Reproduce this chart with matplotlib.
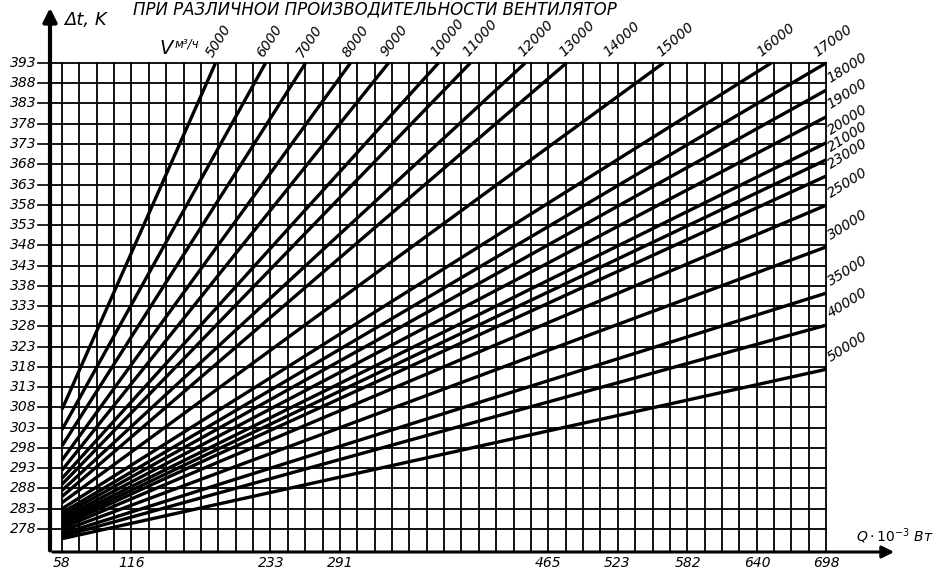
import matplotlib.pyplot as plt
import numpy as np

# axis ticks
q_ticks = [58, 116, 233, 291, 465, 523, 582, 640, 698]
dt_ticks = list(range(393, 277, -5))

# lines that run out through the top edge (dt = 393)
top_flow = [5000, 6000, 7000, 8000, 9000, 10000, 11000, 12000, 13000, 15000, 16000, 17000]
top_q_end = [186.6, 228.5, 262, 299.6, 331.5, 373.3, 400, 446, 480.5, 561.7, 652, 698]
top_dt_start = [307.5, 302.5, 298.5, 295, 292.5, 290.5, 289, 287.5, 286, 284.5, 283, 282]

# lines that run out through the right edge (Q = 698)
right_flow = [18000, 19000, 20000, 21000, 23000, 25000, 30000, 35000, 40000, 50000]
right_dt_end = [386.3, 379.7, 373.3, 369.1, 365.1, 357.9, 347.6, 336.2, 328.3, 317.4]
right_dt_start = [281.3, 280.6, 280, 279.4, 278.8, 278.2, 277.5, 276.8, 276.2, 275.6]

# labels above the top edge
top_labels = ['5000', '6000', '7000', '8000', '9000', '10000', '11000', '12000',
              '13000', '14000', '15000', '16000', '17000']
top_label_q = [186.6, 228.5, 262, 299.6, 331.5, 373.3, 400, 446, 480.5, 517, 561.7, 645, 692]
top_label_rot = [58, 57, 56, 54, 52, 50, 48, 46, 45, 43, 41, 39, 36]

q_min, q_max = 58, 698
dt_min, dt_max = 278, 393
x_lo, x_hi = 47.95, 757.3
y_lo, y_hi = 272.32, 407.3

fig = plt.figure(figsize=(9.36, 5.76), dpi=100)
ax = fig.add_axes([50 / 936, 1 - 552 / 576, (897 - 50) / 936, (552 - 5) / 576])
ax.set_xlim(x_lo, x_hi)
ax.set_ylim(y_lo, y_hi)
ax.axis('off')

# grid
for q in np.linspace(q_min, q_max, 45):
    ax.plot([q, q], [y_lo, dt_max], color='black', lw=1.3)
for dt in dt_ticks:
    ax.plot([x_lo, q_max], [dt, dt], color='black', lw=1.3)

# fan of lines
for q_end, dt0 in zip(top_q_end, top_dt_start):
    ax.plot([q_min, q_end], [dt0, dt_max], color='black', lw=2.4, solid_capstyle='butt')
for dt_end, dt0 in zip(right_dt_end, right_dt_start):
    ax.plot([q_min, q_max], [dt0, dt_end], color='black', lw=2.4, solid_capstyle='butt')

# axes with arrows
ax.annotate('', xy=(x_lo, y_hi), xytext=(x_lo, y_lo - 0.3),
            arrowprops=dict(arrowstyle='-|>', lw=3, color='black', mutation_scale=20))
ax.annotate('', xy=(x_hi, y_lo), xytext=(x_lo, y_lo),
            arrowprops=dict(arrowstyle='-|>', lw=2.2, color='black', mutation_scale=18))

# y ticks
for dt in dt_ticks:
    ax.plot([38, x_lo], [dt, dt], color='black', lw=1.2, clip_on=False)
    ax.text(37, dt, str(dt), ha='right', va='center', fontsize=10, style='italic')

# x ticks
for q in q_ticks:
    ax.text(q, 269.6, str(q), ha='center', va='center', fontsize=10, style='italic')

# flow labels
for lab, q, rot in zip(top_labels, top_label_q, top_label_rot):
    ax.text(q, 393.9, lab, rotation=rot, rotation_mode='anchor', ha='left', va='bottom',
            fontsize=10, style='italic')
for f, dt in zip(right_flow, right_dt_end):
    ax.text(703, dt + 1.2, str(f), rotation=32, rotation_mode='anchor', ha='left',
            va='bottom', fontsize=10, style='italic')

# axis titles
ax.text(60, 401.5, 'Δt, K', ha='left', va='bottom', fontsize=13, style='italic')
ax.text(723, 273.8, r'$Q\cdot10^{-3}$ Вт', ha='left', va='bottom', fontsize=10, style='italic')
ax.text(140, 394.3, 'V', ha='left', va='bottom', fontsize=14, style='italic')
ax.text(152, 396.0, 'м³/ч', ha='left', va='bottom', fontsize=8.5, style='italic')

fig.text(375 / 936, 1 - 10 / 576, 'ПРИ РАЗЛИЧНОЙ ПРОИЗВОДИТЕЛЬНОСТИ ВЕНТИЛЯТОР',
         ha='center', va='center', fontsize=12, style='italic')

fig.savefig('out.png', dpi=100)
